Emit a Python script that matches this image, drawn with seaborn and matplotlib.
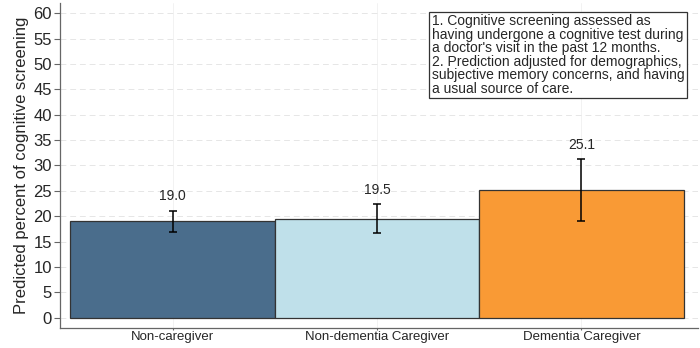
import numpy as np
import pandas as pd
import matplotlib
matplotlib.use("Agg")
import matplotlib.pyplot as plt
import seaborn as sns

# values
groups = ["Non-caregiver", "Non-dementia Caregiver", "Dementia Caregiver"]
pred_pct = [19.0, 19.5, 25.1]
ci_low = [16.9, 16.7, 19.1]
ci_high = [21.1, 22.4, 31.3]
bar_colors = ["#4a6d8c", "#bfe0ea", "#f99a35"]
y_ticks = list(range(0, 61, 5))

note = ("1. Cognitive screening assessed as\n"
        "having undergone a cognitive test during\n"
        "a doctor's visit in the past 12 months.\n"
        "2. Prediction adjusted for demographics,\n"
        "subjective memory concerns, and having\n"
        "a usual source of care.")

sns.set_style("white")
plt.rcParams['font.family'] = ['Liberation Sans', 'DejaVu Sans']

df = pd.DataFrame({"group": groups, "pct": pred_pct})

fig = plt.figure(figsize=(7, 3.48), dpi=100)
ax = fig.add_axes([0.086, 0.0575, 0.911, 0.934])

sns.barplot(data=df, x="group", y="pct", hue="group", palette=bar_colors,
            saturation=1, width=1.0, edgecolor="#333333", linewidth=0.9,
            legend=False, errorbar=None, ax=ax, zorder=2)

xs = np.arange(len(groups))
lo = np.array(pred_pct) - np.array(ci_low)
hi = np.array(ci_high) - np.array(pred_pct)
ax.errorbar(xs, pred_pct, yerr=[lo, hi], fmt="none", ecolor="black",
            elinewidth=1.1, capsize=3, capthick=1.1, zorder=3)

for x, v, top in zip(xs, pred_pct, ci_high):
    ax.text(x, top + 2.8, f"{v:.1f}", ha="center", va="center", fontsize=10)

ax.set_ylim(-2, 62)
ax.set_xlim(-0.55, 2.57)
ax.set_yticks(y_ticks)
ax.set_xlabel("")
ax.set_ylabel("Predicted percent of cognitive screening", fontsize=12, labelpad=3)
ax.tick_params(axis="y", labelsize=12, length=4, color="#666666", pad=2)
ax.tick_params(axis="x", labelsize=9.5, length=1.5, color="#666666", pad=1)
ax.tick_params(bottom=True, left=True)

ax.grid(axis="y", color="#e6e6e6", linestyle=(0, (6, 4)), linewidth=0.7, zorder=0)
ax.grid(axis="x", color="#f0f0f0", linestyle="-", linewidth=0.6, zorder=0)
ax.set_axisbelow(True)

for s in ["top", "right"]:
    ax.spines[s].set_visible(False)
for s in ["left", "bottom"]:
    ax.spines[s].set_color("#666666")
    ax.spines[s].set_linewidth(0.9)

ax.text(0.583, 0.965, note, transform=ax.transAxes, ha="left", va="top",
        fontsize=10, linespacing=0.95, zorder=5,
        bbox=dict(boxstyle="square,pad=0.2", facecolor="white",
                  edgecolor="#333333", linewidth=0.9))

plt.savefig("out.png", dpi=100)
plt.close()
